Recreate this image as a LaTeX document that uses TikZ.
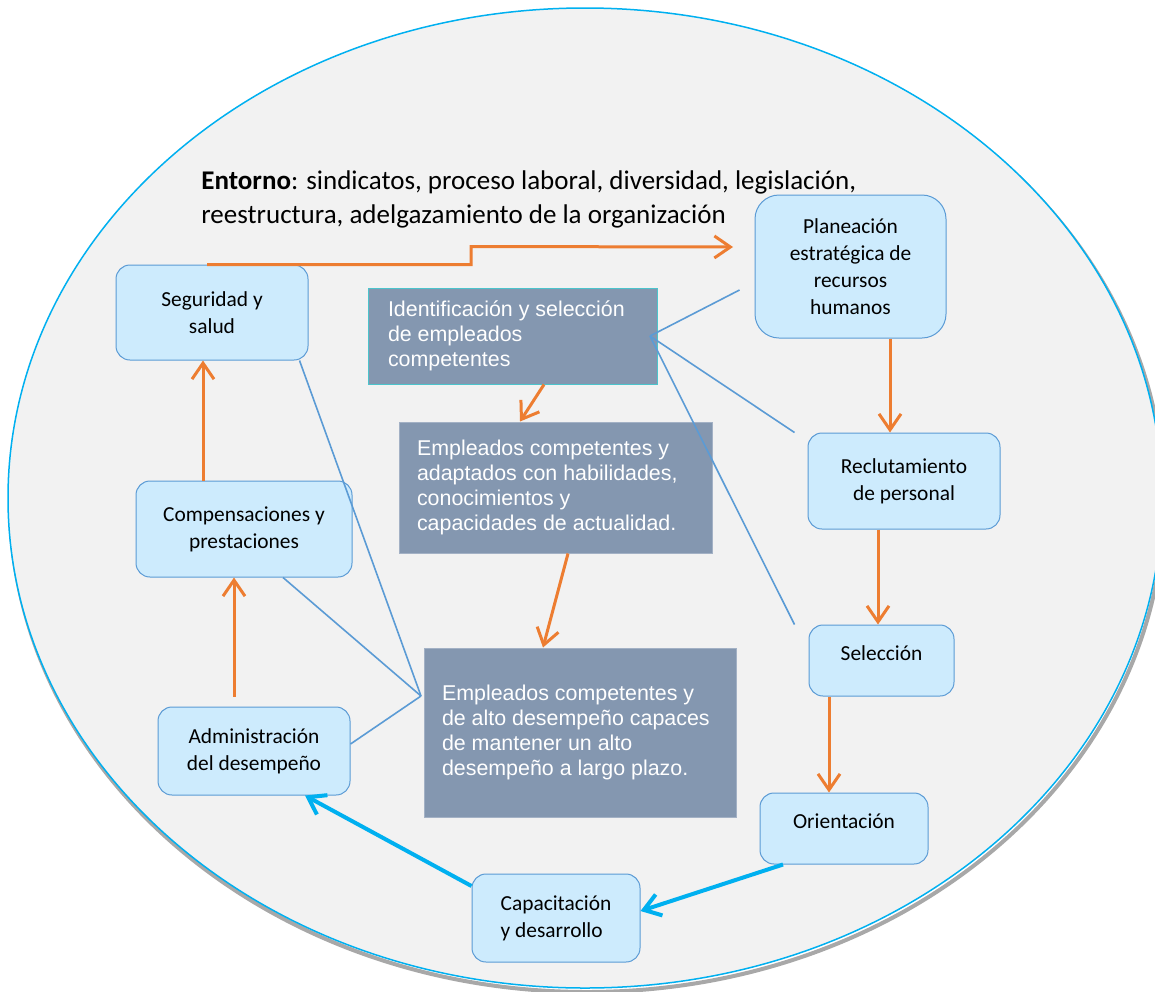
\documentclass[tikz,border=0pt]{standalone}
\usepackage{fontspec}
\setmainfont{Carlito}
\newfontfamily\arialfont{Liberation Sans}
\usepackage{xcolor}
\usetikzlibrary{arrows.meta}
\definecolor{ringblue}{HTML}{00B0F0}
\definecolor{ringfill}{HTML}{F2F2F2}
\definecolor{ringshadow}{HTML}{A8A8A8}
\definecolor{boxfill}{HTML}{CDEBFD}
\definecolor{boxline}{HTML}{5B9BD5}
\definecolor{darkfill}{HTML}{8497B0}
\definecolor{darkline}{HTML}{A3B1C5}
\definecolor{tealline}{HTML}{4CC4CC}
\definecolor{flow}{HTML}{ED7D31}
\definecolor{linkline}{HTML}{5B9BD5}

\begin{document}
\begin{tikzpicture}[
x=0.5pt, y=-0.5pt,
stage/.style={rectangle, rounded corners=7pt, draw=boxline, fill=boxfill, line width=0.5pt, align=center, inner sep=0pt, font=\fontsize{10.7}{13.5}\selectfont},
outcome/.style={rectangle, draw=darkline, fill=darkfill, line width=0.5pt, text=white, align=flush left, inner xsep=9pt, inner ysep=0pt, font=\arialfont\fontsize{10.7}{12.4}\selectfont},
flow_arrow/.style={draw=flow, line width=1.5pt, -{Straight Barb[length=8pt,width=11pt]}},
cycle_arrow/.style={draw=ringblue, line width=2pt, -{Straight Barb[length=8pt,width=11pt]}},
link/.style={draw=linkline, line width=0.8pt},
]
\useasboundingbox (0,0) rectangle (1155,991);
\clip (0,0) rectangle (1155,991);

%Background
\draw[ringshadow, line width=2pt] (587,502) ellipse [x radius=288.5pt, y radius=245pt];
\draw[ringblue, fill=ringfill, line width=0.75pt] (585,498) ellipse [x radius=288.5pt, y radius=245pt];

\node[anchor=north west, align=left, inner sep=0pt, font=\fontsize{13.5}{17}\selectfont] (entorno) at (201,170)
  {\textbf{Entorno}: sindicatos, proceso laboral, diversidad, legislación,\\reestructura, adelgazamiento de la organización};

%Stages
\node[stage, minimum width=95.5pt, minimum height=71.5pt, rounded corners=12pt] (plan_rh) at (850.5,266.5) {Planeación\\estratégica de\\recursos\\humanos};
\node[stage, minimum width=96pt, minimum height=48pt] (reclut) at (904,481) {Reclutamiento\\de personal};
\node[stage, minimum width=72.5pt, minimum height=35.5pt, text depth=7.5pt] (sel) at (881.5,660.5) {Selección};
\node[stage, minimum width=84pt, minimum height=35.5pt, text depth=7.5pt] (orient) at (844,828.5) {Orientación};
\node[stage, minimum width=84pt, minimum height=44pt, align=left] (capac_desarr) at (556,918) {Capacitación\\y desarrollo};
\node[stage, minimum width=96pt, minimum height=44pt] (admin_desemp) at (254,751) {Administración\\del desempeño};
\node[stage, minimum width=108pt, minimum height=48pt] (comp_prest) at (244,529) {Compensaciones y\\prestaciones};
\node[stage, minimum width=96pt, minimum height=47.5pt] (seg_salud) at (212,312.5) {Seguridad y\\salud};

%Outcomes
\node[outcome, draw=tealline, inner xsep=10pt, text width=124.5pt, minimum height=48pt] (ident_sel) at (512.5,336) {Identificación y selección\\de empleados\\competentes};
\node[outcome, text width=138.5pt, minimum height=65.5pt] (emp_adapt) at (555.5,487.5) {Empleados competentes y\\adaptados con habilidades,\\conocimientos y\\capacidades de actualidad.};
\node[outcome, text width=138pt, minimum height=84.5pt] (emp_alto) at (580,732.5) {Empleados competentes y\\de alto desempeño capaces\\de mantener un alto\\desempeño a largo plazo.};

%Entorno arrow
\coordinate (entorno_end) at (733,247);
\draw[flow_arrow] ([xshift=-2.5pt]seg_salud.north) -- ++(264,0) -- ++(0,-18) -- (entorno_end);

%Stage flow
\draw[flow_arrow] ([xshift=19.75pt]plan_rh.south) -- ([xshift=19.75pt]plan_rh.south |- reclut.north);
\draw[flow_arrow] ([xshift=-13pt]reclut.south) -- ([xshift=-13pt]reclut.south |- sel.north);
\draw[flow_arrow] ([xshift=-7.5pt]orient.north |- sel.south) -- ([xshift=-7.5pt]orient.north);
\draw[flow_arrow] ([xshift=-5pt,yshift=5pt]comp_prest.south |- admin_desemp.north) -- ([xshift=-5pt]comp_prest.south);
\draw[flow_arrow] ([xshift=-4.5pt]seg_salud.south |- comp_prest.north) -- ([xshift=-4.5pt]seg_salud.south);
\draw[flow_arrow] ([xshift=15.75pt]ident_sel.south) -- ([xshift=-17.75pt]emp_adapt.north);
\draw[flow_arrow] ([xshift=6.25pt]emp_adapt.south) -- ([xshift=-18.5pt]emp_alto.north);

%Cycle
\draw[cycle_arrow] ([xshift=-30.5pt]orient.south) -- ([yshift=3.5pt]capac_desarr.east);
\draw[cycle_arrow] ([yshift=16pt]capac_desarr.west) -- ([xshift=25.5pt]admin_desemp.south);

%Links
\coordinate (hub_ident) at (650,336);
\coordinate (hub_alto) at (421,696);
\draw[link] ([xshift=-7.5pt,yshift=-11.75pt]plan_rh.west) -- (hub_ident);
\draw[link] (hub_ident) -- ([xshift=-6.5pt]reclut.north west);
\draw[link] (hub_ident) -- ([xshift=-7pt]sel.north west);
\draw[link] ([xshift=-4.5pt]seg_salud.south east) -- (hub_alto);
\draw[link] ([xshift=19.5pt]comp_prest.south) -- (hub_alto);
\draw[link] ([yshift=3.5pt]admin_desemp.east) -- (hub_alto);
\end{tikzpicture}
\end{document}
